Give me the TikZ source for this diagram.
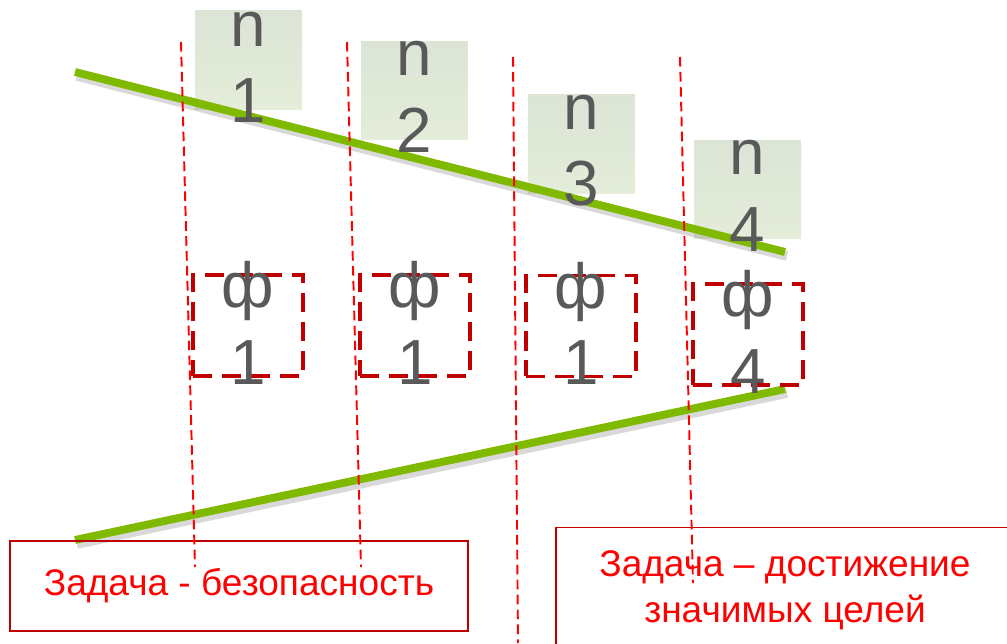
\documentclass[tikz,border=0pt]{standalone}
\usepackage{fontspec}
\setmainfont{Liberation Sans}
\usetikzlibrary{positioning}
\definecolor{barGreen}{RGB}{128,186,0}
\definecolor{boxTop}{RGB}{220,228,214}
\definecolor{boxBot}{RGB}{228,237,217}
\definecolor{darkRed}{RGB}{192,0,0}
\definecolor{txtGray}{RGB}{89,89,89}
\tikzstyle{nbox} = [rectangle, minimum width=2.14cm, minimum height=1.97cm,
inner sep=0pt, top color=boxTop, bottom color=boxBot, draw=none]
\tikzstyle{fbox} = [rectangle, minimum width=2.2cm, minimum height=2.02cm,
inner sep=0pt, draw=darkRed, line width=2.2pt, dash pattern=on 11pt off 5.5pt]
\tikzstyle{lbl} = [inner sep=0pt, align=center, text=txtGray,
font=\fontsize{36.3}{43.7}\selectfont]
\tikzstyle{task} = [rectangle, minimum width=9.16cm, draw=darkRed,
line width=0.9pt, text=red, align=center, font=\fontsize{21.1}{26.1}\selectfont]
\tikzstyle{guide} = [red, line width=1.1pt, dash pattern=on 5.5pt off 3pt]
\tikzstyle{bar} = [barGreen, line width=4.5pt]
\tikzstyle{barshadow} = [black, opacity=0.15, line width=5.5pt]

\begin{document}
\begin{tikzpicture}[x=0.02cm, y=-0.02cm]
            \useasboundingbox (0,0) rectangle (1007,643);
            \clip (0,0) rectangle (1007,643);
            % boxes n
            \node[nbox] (n1) at (248.5,60) {};
            \node[nbox] (n2) at (414.5,90.5) {};
            \node[nbox] (n3) at (581.5,144) {};
            \node[nbox] (n4) at (747.5,189.5) {};
            % green bars
            \coordinate (topL) at (75,72);
            \coordinate (topR) at (785,252);
            \coordinate (botL) at (75,540);
            \coordinate (botR) at (785,389);
            \draw[barshadow] ([shift={(2,4)}]topL) -- ([shift={(2,4)}]topR);
            \draw[barshadow] ([shift={(2,4)}]botL) -- ([shift={(2,4)}]botR);
            \draw[bar] (topL) -- (topR);
            \draw[bar] (botL) -- (botR);
            \node[lbl, anchor=north] (ln1) at ([yshift=-0.6pt]n1.north) {n\\1};
            \node[lbl, anchor=north] (ln2) at (n2.north) {n\\2};
            \node[lbl, anchor=north] (ln3) at (n3.north) {n\\3};
            \node[lbl, anchor=north] (ln4) at (n4.north) {n\\4};
            % boxes f
            \node[fbox] (f1) at (248,325.5) {};
            \node[fbox] (f2) at (415,325.5) {};
            \node[fbox] (f3) at (581,326) {};
            \node[fbox] (f4) at (748,334.5) {};
            \node[lbl, anchor=north] (lf1) at ([yshift=6.8pt]f1.north) {ф\\1};
            \node[lbl, anchor=north] (lf2) at ([yshift=6.8pt]f2.north) {ф\\1};
            \node[lbl, anchor=north] (lf3) at ([yshift=6.8pt]f3.north) {ф\\1};
            \node[lbl, anchor=north] (lf4) at ([yshift=6.8pt]f4.north) {ф\\4};
            % tasks
            \node[task, minimum height=1.8cm] (safe) at (239,586) {Задача - безопасность};
            \node[task, minimum height=2.5cm] (goal) at (785,590)
            {Задача – достижение\\значимых целей};
            % guides
            \coordinate (g1a) at (181,42);  \coordinate (g1b) at (195,567);
            \coordinate (g2a) at (347,42);  \coordinate (g2b) at (361,567);
            \coordinate (g3a) at (513,57);  \coordinate (g3b) at (518,643);
            \coordinate (g4a) at (680,57);  \coordinate (g4b) at (693,583);
            \draw[guide] (g1a) -- (g1b);
            \draw[guide] (g2a) -- (g2b);
            \draw[guide] (g3a) -- (g3b);
            \draw[guide] (g4a) -- (g4b);
        \end{tikzpicture}
\end{document}
